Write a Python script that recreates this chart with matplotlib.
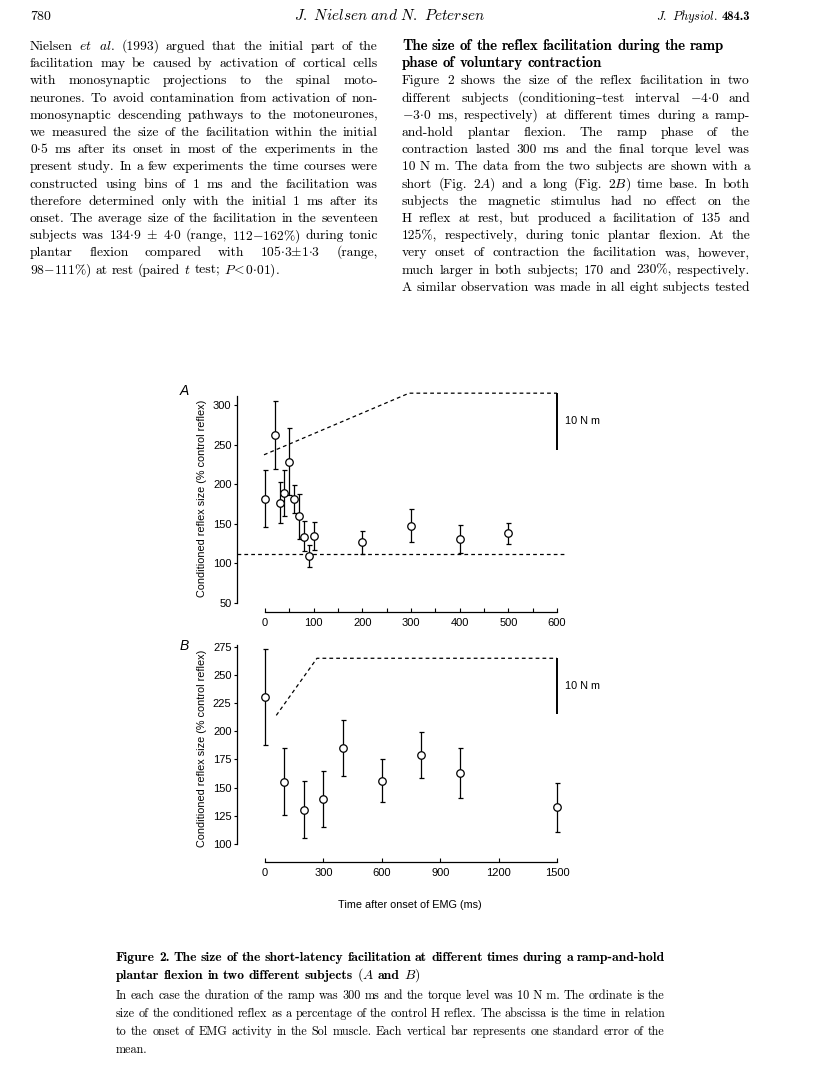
import matplotlib
matplotlib.use('Agg')
import matplotlib.pyplot as plt

plt.rcParams['mathtext.fontset'] = 'cm'
plt.rcParams['font.family'] = ['Liberation Sans', 'DejaVu Sans']

W, H = 816, 1070

# ---- data, panel A (short time base) ----
a_time = [0, 20, 30, 40, 50, 60, 70, 80, 90, 100, 200, 300, 400, 500]
a_mean = [181, 262, 176, 189, 228, 181, 159, 133, 109, 134, 126, 147, 131, 138]
a_low = [145, 219, 151, 159, 186, 163, 130, 115, 95, 117, 112, 127, 113, 124]
a_high = [218, 305, 202, 218, 271, 199, 188, 153, 123, 152, 140, 168, 148, 151]
a_torque_t = [-2, 296, 600]
a_torque = [237, 315, 315]
a_rest_t = [-57, 614]
a_rest = [111, 111]
a_bar = [315, 243.5]

# ---- data, panel B (long time base) ----
b_time = [0, 100, 200, 300, 400, 600, 800, 1000, 1500]
b_mean = [230, 155, 130, 140, 185, 156, 179, 163, 133]
b_low = [188, 125.5, 105, 115.5, 160.5, 137, 158.5, 140.5, 111]
b_high = [272.5, 185, 155.5, 165, 210, 175.5, 199, 185, 154.5]
b_torque_t = [58, 267, 1500]
b_torque = [214, 264.6, 264.6]
b_bar = [264.6, 214.8]

a_xticks = list(range(0, 601, 50))
a_yticks = [50, 100, 150, 200, 250, 300]
b_xticks = [0, 300, 600, 900, 1200, 1500]
b_yticks = [100, 125, 150, 175, 200, 225, 250, 275]

ylab = 'Conditioned reflex size (% control reflex)'
xlab = 'Time after onset of EMG (ms)'

# ---- page text ----
header_left = ['780']
header_mid = [r'$\mathit{J.\ Nielsen\ and\ N.\ Petersen}$']
header_right = [r'$\mathit{J.\ Physiol.}$', '**484.3']

left_col = [
    ['Nielsen', r'$et$', r'$al.$', '(1993)', 'argued', 'that', 'the', 'initial', 'part', 'of', 'the'],
    'facilitation may be caused by activation of cortical cells'.split(),
    'with monosynaptic projections to the spinal moto-'.split(),
    'neurones. To avoid contamination from activation of non-'.split(),
    'monosynaptic descending pathways to the motoneurones,'.split(),
    'we measured the size of the facilitation within the initial'.split(),
    [r'$0{\cdot}5$'] + 'ms after its onset in most of the experiments in the'.split(),
    'present study. In a few experiments the time courses were'.split(),
    'constructed using bins of 1 ms and the facilitation was'.split(),
    'therefore determined only with the initial 1 ms after its'.split(),
    'onset. The average size of the facilitation in the seventeen'.split(),
    ['subjects', 'was', r'$134{\cdot}9$', r'$\pm$', r'$4{\cdot}0$', '(range,', r'$112{-}162\%)$',
     'during', 'tonic'],
    ['plantar', 'flexion', 'compared', 'with', r'$105{\cdot}3{\pm}1{\cdot}3$', '(range,'],
    [r'$98{-}111\%)$', 'at', 'rest', '(paired', r'$t$', 'test;', r'$P\!<0{\cdot}01).$'],
]

right_head = [
    'The size of the reflex facilitation during the ramp'.split(),
    'phase of voluntary contraction'.split(),
]

right_col = [
    'Figure 2 shows the size of the reflex facilitation in two'.split(),
    ['different', 'subjects', '(conditioning–test', 'interval', r'$-4{\cdot}0$', 'and'],
    [r'$-3{\cdot}0$', 'ms,', 'respectively)', 'at', 'different', 'times', 'during', 'a', 'ramp-'],
    'and-hold plantar flexion. The ramp phase of the'.split(),
    'contraction lasted 300 ms and the final torque level was'.split(),
    ['10 N m.'] + 'The data from the two subjects are shown with a'.split(),
    ['short', '(Fig.', r'$2A)$', 'and', 'a', 'long', '(Fig.', r'$2B)$', 'time', 'base.', 'In', 'both'],
    'subjects the magnetic stimulus had no effect on the'.split(),
    'H reflex at rest, but produced a facilitation of 135 and'.split(),
    '125%, respectively, during tonic plantar flexion. At the'.split(),
    'very onset of contraction the facilitation was, however,'.split(),
    'much larger in both subjects; 170 and 230%, respectively.'.split(),
    'A similar observation was made in all eight subjects tested'.split(),
]

cap_title = [
    'Figure 2. The size of the short-latency facilitation at different times during a ramp-and-hold'.split(),
    ['plantar', 'flexion', 'in', 'two', 'different', 'subjects', r'$(A$', 'and', r'$B)$'],
]
cap_body = [
    ('In each case the duration of the ramp was 300 ms and the torque level was'.split()
     + ['10 N m.'] + 'The ordinate is the'.split()),
    'size of the conditioned reflex as a percentage of the control H reflex. The abscissa is the time in relation'.split(),
    'to the onset of EMG activity in the Sol muscle. Each vertical bar represents one standard error of the'.split(),
    ['mean.'],
]

fig = plt.figure(figsize=(W / 100, H / 100), dpi=100)
fig.patch.set_facecolor('white')
rend = fig.canvas.get_renderer()


def make_texts(tokens, y, size, bold):
    objs = []
    for tok in tokens:
        b = bold
        if tok.startswith('**'):
            tok, b = tok[2:], True
        fam = ['cmb10' if b else 'cmr10', 'DejaVu Serif']
        objs.append(fig.text(0, 1 - y / H, tok, fontsize=size, family=fam,
                             va='baseline', ha='left'))
    return objs


def natural(tokens, size, bold=False):
    objs = make_texts(tokens, 0, size, bold)
    w = sum(o.get_window_extent(rend).width for o in objs)
    w += 0.3 * size * 100 / 72 * (len(objs) - 1)
    for o in objs:
        o.remove()
    return w


def fit_size(tokens, target, bold=False):
    return 10 * target / natural(tokens, 10, bold)


def put_line(tokens, x0, x1, y, size, bold=False, align='justify'):
    objs = make_texts(tokens, y, size, bold)
    widths = [o.get_window_extent(rend).width for o in objs]
    space = 0.3 * size * 100 / 72
    n = len(objs)
    total = sum(widths)
    if align == 'justify' and n > 1:
        min_gap = 0.18 * size * 100 / 72
        if total + min_gap * (n - 1) > x1 - x0:
            f = (x1 - x0 - min_gap * (n - 1)) / total
            for o in objs:
                o.set_fontsize(size * f)
            widths = [o.get_window_extent(rend).width for o in objs]
            total = sum(widths)
        gap = (x1 - x0 - total) / (n - 1)
        start = x0
    else:
        gap = space
        full = total + gap * (n - 1)
        start = {'left': x0, 'right': x1 - full, 'center': x0 - full / 2}[align]
    x = start
    for o, w in zip(objs, widths):
        o.set_x(x / W)
        x += w + gap


def put_block(rows, x0, x1, y0, step, size, bold=False, last='left', first_align='justify'):
    for i, row in enumerate(rows):
        al = last if i == len(rows) - 1 else first_align
        put_line(row, x0, x1, y0 + i * step, size, bold, al)


# font sizes calibrated on lines that are set with plain spacing in the print
body_size = fit_size(right_col[-1], 346)
head_size = fit_size(right_head[0], 322, bold=True)
capt_size = fit_size(cap_title[0], 546, bold=True)
capb_size = fit_size(cap_body[0], 546)

# header
put_line(header_left, 30, 200, 20, 10, align='left')
put_line(header_mid, 390, 390, 20, 11, align='center')
put_line(header_right, 600, 750, 20, 9, align='right')

step = 17.2
put_block(left_col, 30, 378, 50, step, body_size)
put_block(right_head, 402, 750, 50, step, head_size, bold=True, last='left', first_align='left')
put_block(right_col, 402, 750, 50 + 2 * step, step, body_size, last='justify')

put_block(cap_title, 116, 665, 961, 18, capt_size, bold=True)
put_block(cap_body, 116, 665, 999, 18, capb_size)


def add_panel(l, t, r, b, xlim, ylim):
    ax = fig.add_axes([l / W, 1 - b / H, (r - l) / W, (b - t) / H])
    ax.set_xlim(xlim)
    ax.set_ylim(ylim)
    ax.patch.set_alpha(0)
    ax.spines['top'].set_visible(False)
    ax.spines['right'].set_visible(False)
    for s in ('left', 'bottom'):
        ax.spines[s].set_linewidth(0.9)
    ax.tick_params(axis='y', direction='out', length=2.5, width=0.8, pad=1.5, labelsize=8)
    ax.tick_params(axis='x', direction='in', length=3, width=0.8, pad=4.5, labelsize=8)
    return ax


def draw_data(ax, t, m, lo, hi, tq_t, tq, bar_x, bar, rest_t=None, rest=None):
    err = [[mi - l for mi, l in zip(m, lo)], [h - mi for mi, h in zip(m, hi)]]
    ax.errorbar(t, m, yerr=err, fmt='o', ms=5.4, mfc='white', mec='black', mew=0.9,
                ecolor='black', elinewidth=0.9, capsize=1.8, capthick=0.9, zorder=3)
    ax.plot(tq_t, tq, color='black', lw=0.9, ls=(0, (3, 2.5)))
    if rest_t is not None:
        ax.plot(rest_t, rest, color='black', lw=0.9, ls=(0, (3, 2.5)))
    ax.plot([bar_x, bar_x], bar, color='black', lw=1.4, solid_capstyle='butt')
    ax.annotate('10 N m', xy=(bar_x, sum(bar) / 2), xytext=(6, 0), textcoords='offset points',
                fontsize=7.8, va='center', ha='left')


# panel A
axA = add_panel(237, 392, 570, 612, (-57.5, 626.7), (38.0, 316.5))
draw_data(axA, a_time, a_mean, a_low, a_high, a_torque_t, a_torque, 600, a_bar, a_rest_t, a_rest)
axA.spines['left'].set_bounds(50, 312)
axA.spines['bottom'].set_bounds(0, 600)
axA.set_yticks(a_yticks)
axA.set_xticks(a_xticks)
axA.set_xticklabels([str(v) if v % 100 == 0 else '' for v in a_xticks])

# panel B
axB = add_panel(237, 640, 570, 862, (-143.8, 1566.8), (84.05, 280.8))
draw_data(axB, b_time, b_mean, b_low, b_high, b_torque_t, b_torque, 1500, b_bar)
axB.spines['left'].set_bounds(100, 276)
axB.spines['bottom'].set_bounds(0, 1500)
axB.set_yticks(b_yticks)
axB.set_xticks(b_xticks)

fig.text(202 / W, 1 - 498 / H, ylab, rotation=90, fontsize=7.8, ha='center', va='center')
fig.text(202 / W, 1 - 748 / H, ylab, rotation=90, fontsize=7.8, ha='center', va='center')
fig.text(410 / W, 1 - 905 / H, xlab, fontsize=7.8, ha='center', va='center')
fig.text(180 / W, 1 - 391 / H, 'A', fontsize=10, style='italic', ha='left', va='center')
fig.text(180 / W, 1 - 646 / H, 'B', fontsize=10, style='italic', ha='left', va='center')

fig.savefig('out.png', dpi=100, facecolor='white')
